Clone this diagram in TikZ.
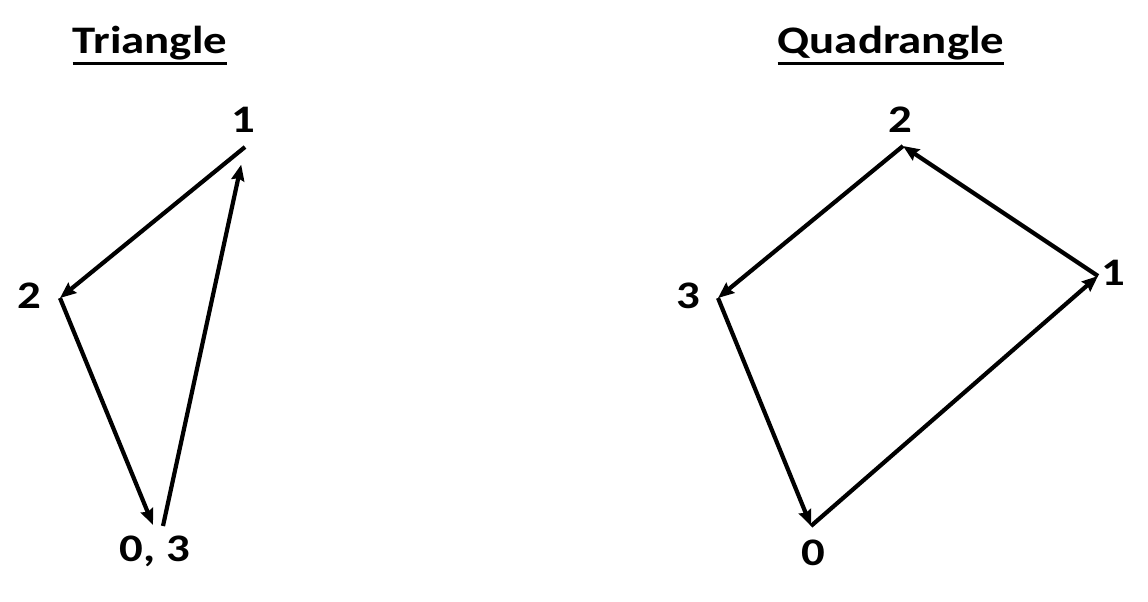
\documentclass[tikz,border=0pt]{standalone}
\usepackage{fontspec}
\setmainfont{Carlito}
\usetikzlibrary{arrows.meta}
\newcommand\etire[1]{\scalebox{1.2}[1]{#1}}
\begin{document}
\begin{tikzpicture}[x=1pt,y=-1pt]
	% Styles
	\tikzstyle{fleche}=[-{Stealth[length=16pt,width=13pt,inset=2pt]},line width=4.2pt]
	\tikzstyle{etiquette}=[anchor=base,inner sep=0pt,font=\fontsize{39}{44}\selectfont\bfseries]
	\tikzstyle{titre}=[etiquette]
	\tikzstyle{souligne}=[line width=3pt]
	% Cadre
	\useasboundingbox (0,0) rectangle (1148,602);
	% Titres
	\node[titre] (titreT) at (150,53) {\etire{Triangle}};
	\node[titre] (titreQ) at (891,53) {\etire{Quadrangle}};
	\draw[souligne] ([yshift=-11pt]titreT.base west) -- ([yshift=-11pt]titreT.base east);
	\draw[souligne] ([yshift=-11pt]titreQ.base west) -- ([yshift=-11pt]titreQ.base east);
	% Sommets du triangle
	\coordinate (T1) at (245,147);
	\coordinate (T2) at (60,298);
	\coordinate (T0) at (153,525);
	\coordinate (T3) at (163,526);
	\node[etiquette] (eT1) at (243,132) {\etire{1}};
	\node[etiquette] (eT2) at (29,308) {\etire{2}};
	\node[etiquette] (eT0) at (155,561) {\etire{0, 3}};
	% Sommets du quadrilatere
	\coordinate (Q0) at (811,526);
	\coordinate (Q1) at (1098,276);
	\coordinate (Q2) at (903,146);
	\coordinate (Q3) at (718,298);
	\node[etiquette] (eQ0) at (813,565) {\etire{0}};
	\node[etiquette] (eQ1) at (1113,285) {\etire{1}};
	\node[etiquette] (eQ2) at (900,132) {\etire{2}};
	\node[etiquette] (eQ3) at (688,308) {\etire{3}};
	% Arcs
	\draw[fleche] (T1)--(T2);
	\draw[fleche] (T2)--(T0);
	\draw[fleche,shorten >=18pt] (T3)--(T1);
	\draw[fleche] (Q0)--(Q1);
	\draw[fleche] (Q1)--(Q2);
	\draw[fleche] (Q2)--(Q3);
	\draw[fleche] (Q3)--(Q0);
\end{tikzpicture}
\end{document}
